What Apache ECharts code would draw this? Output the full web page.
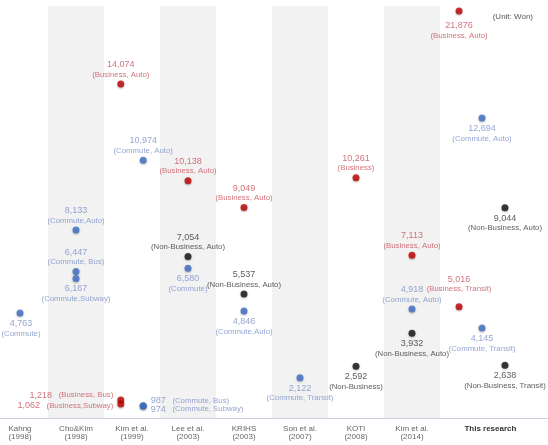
<!DOCTYPE html>
<html><head><meta charset="utf-8">
<script src="https://cdn.jsdelivr.net/npm/echarts@6/dist/echarts.min.js"></script>
<style>html,body{margin:0;padding:0;background:#fff}#c{width:548px;height:445px}</style>
</head><body><div id="c"></div>
<script>
// ---- data ----
const studies = ['Kahng\n(1998)', 'Cho&Kim\n(1998)', 'Kim et al.\n(1999)', 'Lee et al.\n(2003)', 'KRIHS\n(2003)', 'Son et al.\n(2007)', 'KOTI\n(2008)', 'Kim et al.\n(2014)', 'This research'];

const businessStudy = [2, 2, 2, 3, 4, 6, 7, 8, 8];
const businessValue = [14074, 1218, 1062, 10138, 9049, 10261, 7113, 21876, 5016];
const businessDesc  = ['Business, Auto', 'Business, Bus', 'Business,Subway', 'Business, Auto', 'Business, Auto', 'Business', 'Business, Auto', 'Business, Auto', 'Business, Transit'];

const commuteStudy = [0, 1, 1, 1, 2, 2, 2, 3, 4, 5, 7, 8, 8];
const commuteValue = [4763, 8133, 6447, 6167, 10974, 987, 974, 6580, 4846, 2122, 4918, 12694, 4145];
const commuteDesc  = ['Commute', 'Commute,Auto', 'Commute, Bus', 'Commute,Subway', 'Commute, Auto', 'Commute, Bus', 'Commute, Subway', 'Commute', 'Commute,Auto', 'Commute, Transit', 'Commute, Auto', 'Commute, Auto', 'Commute, Transit'];

const nonBusinessStudy = [3, 4, 6, 7, 8, 8];
const nonBusinessValue = [7054, 5537, 2592, 3932, 9044, 2638];
const nonBusinessDesc  = ['Non-Business, Auto', 'Non-Business, Auto', 'Non-Business', 'Non-Business, Auto', 'Non-Business, Auto', 'Non-Business, Transit'];

// ---- layout / style ----
const businessLabelPos = ['top', 'left', 'left', 'top', 'top', 'top', 'top', 'bottom', 'top'];
const businessLabelOff = [null, [0, -5], [0, 2], null, null, null, null, [0, 4], [0, -8]];
const commuteLabelPos = ['bottom', 'top', 'top', 'bottom', 'top', 'right', 'right', 'bottom', 'bottom', 'bottom', 'top', 'bottom', 'bottom'];
const commuteLabelOff = [[1, 0], null, null, null, null, [0, -5], [0, 3], null, null, null, null, null, null];
const nonBusinessLabelPos = ['top', 'top', 'bottom', 'bottom', 'bottom', 'bottom'];
const nonBusinessLabelOff = [null, null, null, null, null, null];

const slotOffset = { 2: { business: -0.2, commute: 0.2 }, 8: { business: -0.16, commute: 0.25, nonBusiness: 0.66 } };
const labelSlot = { 8: 0.4 };
const FONT = '"Liberation Sans", Arial, sans-serif';
const STY = {
  business: { dot: '#c00000', text: '#c8505c' },
  commute: { dot: '#3e6ec6', text: '#7b8ec8' },
  nonBusiness: { dot: '#111111', text: '#333333' }
};
const W = 'rgba(255,255,255,0)', G = '#f2f2f2';

function fmt(v) { return v.toLocaleString('en-US'); }

function build(type, studyIdx, values, descs, positions, offsets) {
  return studyIdx.map((s, i) => {
    const off = (slotOffset[s] && slotOffset[s][type]) || 0;
    const pos = positions[i];
    const inline = pos === 'left' || pos === 'right';
    return {
      value: [s + off, values[i]],
      label: {
        position: pos,
        distance: pos === 'top' ? 1 : pos === 'bottom' ? 2 : 4,
        offset: offsets[i] || [0, 0],
        formatter: inline ? '{v|' + fmt(values[i]) + '}  {d|(' + descs[i] + ')}'
                          : '{v|' + fmt(values[i]) + '}\n{d|(' + descs[i] + ')}'
      }
    };
  });
}

function series(name, type, data) {
  const c = STY[type];
  return {
    name, type: 'scatter', data, symbolSize: 7, clip: false,
    itemStyle: { color: c.dot, shadowBlur: 2, shadowColor: 'rgba(0,0,0,0.35)', shadowOffsetY: 1 },
    label: {
      show: true,
      rich: {
        v: { fontSize: 9, color: c.text, fontFamily: FONT, lineHeight: 10 },
        d: { fontSize: 7.8, color: c.text, fontFamily: FONT, lineHeight: 10 }
      }
    },
    emphasis: { disabled: true }
  };
}

const chart = echarts.init(document.getElementById('c'), null, { renderer: 'canvas' });
chart.setOption({
  animation: false,
  backgroundColor: '#fff',
  title: { text: '(Unit: Won)', right: 10, top: 8, textStyle: { fontSize: 8, color: '#555', fontWeight: 'normal', fontFamily: FONT } },
  grid: { left: -8, right: -4, top: 6, bottom: 27, containLabel: false, outerBoundsMode: 'none' },
  xAxis: {
    type: 'value', min: -0.5, max: 9.5, interval: 1,
    axisLine: { show: true, lineStyle: { color: '#c8d0dc', width: 1 } },
    axisTick: { show: false },
    splitLine: { show: false },
    splitArea: { show: true, areaStyle: { color: [W, G, W, G, W, G, W, G, W, W] } },
    axisLabel: {
      show: true,
      hideOverlap: false,
      customValues: studies.map((s, i) => i + (labelSlot[i] || 0)),
      formatter: v => {
        const i = Math.floor(v + 0.001);
        return i === 8 ? '{b|' + studies[i] + '}' : studies[i];
      },
      fontSize: 8, color: '#666', lineHeight: 8, margin: 7, fontFamily: FONT,
      rich: { b: { fontSize: 8, fontWeight: 'bold', color: '#333', fontFamily: FONT } }
    }
  },
  yAxis: {
    type: 'value', min: 488, max: 22080, show: false,
    splitLine: { show: false },
    breaks: [{ start: 15500, end: 20330, gap: 0 }],
    breakArea: { show: false }
  },
  series: [
    series('Commute', 'commute', build('commute', commuteStudy, commuteValue, commuteDesc, commuteLabelPos, commuteLabelOff)),
    series('Non-Business', 'nonBusiness', build('nonBusiness', nonBusinessStudy, nonBusinessValue, nonBusinessDesc, nonBusinessLabelPos, nonBusinessLabelOff)),
    series('Business', 'business', build('business', businessStudy, businessValue, businessDesc, businessLabelPos, businessLabelOff))
  ]
});
</script></body></html>
